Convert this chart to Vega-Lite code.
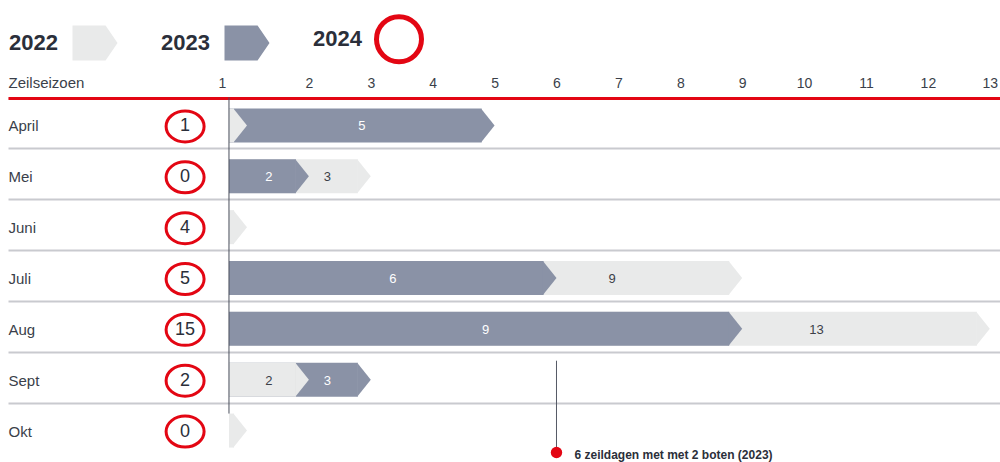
{
  "$schema": "https://vega.github.io/schema/vega-lite/v6.json",
  "autosize": "none",
  "width": 992,
  "height": 356,
  "padding": {"left": 8, "top": 98, "right": 0, "bottom": 8},
  "background": "#ffffff",
  "config": {
    "view": {"stroke": null},
    "font": "Liberation Sans"
  },
  "data": {
    "values": [
      {"month": "April", "year": "2022", "days": 1},
      {"month": "April", "year": "2023", "days": 5},
      {"month": "April", "year": "2024", "days": 1},
      {"month": "Mei", "year": "2022", "days": 3},
      {"month": "Mei", "year": "2023", "days": 2},
      {"month": "Mei", "year": "2024", "days": 0},
      {"month": "Juni", "year": "2022", "days": 1},
      {"month": "Juni", "year": "2024", "days": 4},
      {"month": "Juli", "year": "2022", "days": 9},
      {"month": "Juli", "year": "2023", "days": 6},
      {"month": "Juli", "year": "2024", "days": 5},
      {"month": "Aug", "year": "2022", "days": 13},
      {"month": "Aug", "year": "2023", "days": 9},
      {"month": "Aug", "year": "2024", "days": 15},
      {"month": "Sept", "year": "2022", "days": 2},
      {"month": "Sept", "year": "2023", "days": 3},
      {"month": "Sept", "year": "2024", "days": 2},
      {"month": "Okt", "year": "2022", "days": 1},
      {"month": "Okt", "year": "2024", "days": 0}
    ]
  },
  "encoding": {
    "y": {
      "field": "month",
      "type": "nominal",
      "sort": ["April", "Mei", "Juni", "Juli", "Aug", "Sept", "Okt"],
      "scale": {"paddingInner": 0, "paddingOuter": 0},
      "axis": {
        "title": null,
        "orient": "left",
        "domain": false,
        "ticks": false,
        "bandPosition": 0,
        "labelAlign": "left",
        "labelBaseline": "middle",
        "labelPadding": 0,
        "labelOffset": 3,
        "labelFontSize": 15,
        "labelColor": "#3a3f4a",
        "labelFont": "Liberation Sans",
        "grid": true,
        "gridColor": "#c9cacf",
        "gridWidth": 2
      }
    }
  },
  "layer": [
    {
      "transform": [{"filter": "datum.year !== '2024'"}],
      "mark": {"type": "bar", "height": 34, "yOffset": 2, "xOffset": -13, "cornerRadius": 0},
      "encoding": {
        "x": {
          "field": "days",
          "type": "quantitative",
          "scale": {"domain": [-2.861, 13.165], "nice": false, "zero": false},
          "axis": {
            "orient": "top",
            "values": [1, 2, 3, 4, 5, 6, 7, 8, 9, 10, 11, 12, 13],
            "format": "d",
            "title": "Zeilseizoen",
            "titleAnchor": "start",
            "titleAlign": "left",
            "titleBaseline": "bottom",
            "titleX": 0,
            "titleY": -8,
            "titleFontSize": 15,
            "titleFontWeight": "normal",
            "titleColor": "#3a3f4a",
            "titleFont": "Liberation Sans",
            "domainColor": "#e30613",
            "domainWidth": 3,
            "ticks": false,
            "grid": false,
            "labelPadding": 8,
            "labelFontSize": 14,
            "labelColor": "#3a3f4a",
            "labelFont": "Liberation Sans",
            "labelFlush": false,
            "labelOverlap": false,
            "labelOffset": {"condition": {"test": "datum.value === 1", "value": -25}, "value": 0}
          }
        },
        "x2": {"datum": 0.709},
        "color": {
          "field": "year",
          "type": "nominal",
          "scale": {"domain": ["2022", "2023", "2024"], "range": ["#e9eaea", "#8a92a6", "#e30613"]},
          "legend": {
            "title": null,
            "orient": "none",
            "direction": "horizontal",
            "legendX": 62,
            "legendY": -84,
            "padding": 0,
            "columnPadding": 43,
            "symbolSize": 2025,
            "symbolStrokeWidth": 0,
            "labelAlign": "right",
            "labelBaseline": "middle",
            "labelOffset": -62,
            "labelFontSize": 22,
            "labelFontWeight": "bold",
            "labelColor": "#2b2f3a",
            "labelFont": "Liberation Sans",
            "labelLimit": 200,
            "encode": {
              "symbols": {
                "update": {
                  "shape": {"signal": "datum.value === '2024' ? 'circle' : 'M-1,-1.11L-1,-0.78L0.47,-0.78L1,0L0.47,0.78L-1,0.78L-1,1.11Z'"},
                  "fill": {"signal": "datum.value === '2024' ? 'transparent' : scale('color', datum.value)"},
                  "fillOpacity": {"signal": "datum.value === '2024' ? 0 : 1"},
                  "stroke": {"signal": "datum.value === '2024' ? '#e30613' : 'transparent'"},
                  "strokeOpacity": {"signal": "datum.value === '2024' ? 1 : 0"},
                  "strokeWidth": {"value": 5},
                  "opacity": {"value": 1}
                }
              }
            }
          }
        },
        "order": {"field": "days", "sort": "descending"}
      }
    },
    {
      "transform": [{"filter": "datum.year !== '2024'"}],
      "mark": {"type": "point", "filled": true, "opacity": 1, "shape": "M-0.8,-1L0,0L-0.8,1Z", "size": 1156, "yOffset": 2, "strokeWidth": 0},
      "encoding": {
        "x": {"field": "days", "type": "quantitative"},
        "color": {"field": "year", "type": "nominal"},
        "order": {"field": "days", "sort": "descending"}
      }
    },
    {
      "transform": [
        {"filter": "datum.year !== '2024'"},
        {"joinaggregate": [{"op": "min", "field": "days", "as": "mn"}], "groupby": ["month"]},
        {"filter": "datum.days > 1"},
        {"calculate": "(datum.days === datum.mn || datum.mn <= 1) ? (0.709 + datum.days) / 2 : datum.mn + 0.3 * (datum.days - datum.mn)", "as": "mid"}
      ],
      "mark": {"type": "text", "fontSize": 13, "baseline": "middle", "align": "center", "yOffset": 3, "font": "Liberation Sans"},
      "encoding": {
        "x": {"field": "mid", "type": "quantitative"},
        "text": {"field": "days", "type": "quantitative"},
        "color": {"condition": {"test": "datum.year === '2023'", "value": "#ffffff"}, "value": "#3c3f48"}
      }
    },
    {
      "data": {"values": [{"note": "as"}]},
      "mark": {"type": "rule", "color": "#4a4f5c", "strokeWidth": 1, "yOffset": -26, "y2Offset": -15},
      "encoding": {
        "x": {"datum": 0.709},
        "y": {"datum": "April", "type": "nominal"},
        "y2": {"datum": "Okt"}
      }
    },
    {
      "transform": [{"filter": "datum.year === '2024'"}],
      "mark": {"type": "point", "filled": false, "opacity": 1, "shape": "M-1,0A1,0.816,0,1,1,1,0A1,0.816,0,1,1,-1,0Z", "size": 1444, "stroke": "#e30613", "strokeWidth": 3, "yOffset": 3},
      "encoding": {
        "x": {"datum": 0}
      }
    },
    {
      "transform": [{"filter": "datum.year === '2024'"}],
      "mark": {"type": "text", "fontSize": 18, "baseline": "middle", "align": "center", "yOffset": 3, "color": "#2b2f3a", "font": "Liberation Sans"},
      "encoding": {
        "x": {"datum": 0},
        "text": {"field": "days", "type": "quantitative"}
      }
    },
    {
      "data": {"values": [{"note": "6 zeildagen met met 2 boten (2023)"}]},
      "mark": {"type": "rule", "color": "#555a66", "strokeWidth": 1, "yOffset": -17, "y2Offset": 22},
      "encoding": {
        "x": {"datum": 6},
        "y": {"datum": "Sept", "type": "nominal"},
        "y2": {"datum": "Okt"}
      }
    },
    {
      "data": {"values": [{"note": "6 zeildagen met met 2 boten (2023)"}]},
      "mark": {"type": "point", "filled": true, "opacity": 1, "color": "#e30613", "size": 130, "yOffset": 24},
      "encoding": {
        "x": {"datum": 6},
        "y": {"datum": "Okt", "type": "nominal"}
      }
    },
    {
      "data": {"values": [{"note": "6 zeildagen met met 2 boten (2023)"}]},
      "mark": {"type": "text", "align": "left", "baseline": "middle", "dx": 18, "yOffset": 26, "fontSize": 12, "fontWeight": "bold", "color": "#2b2f3a", "font": "Liberation Sans"},
      "encoding": {
        "x": {"datum": 6},
        "y": {"datum": "Okt", "type": "nominal"},
        "text": {"field": "note", "type": "nominal"}
      }
    }
  ]
}
